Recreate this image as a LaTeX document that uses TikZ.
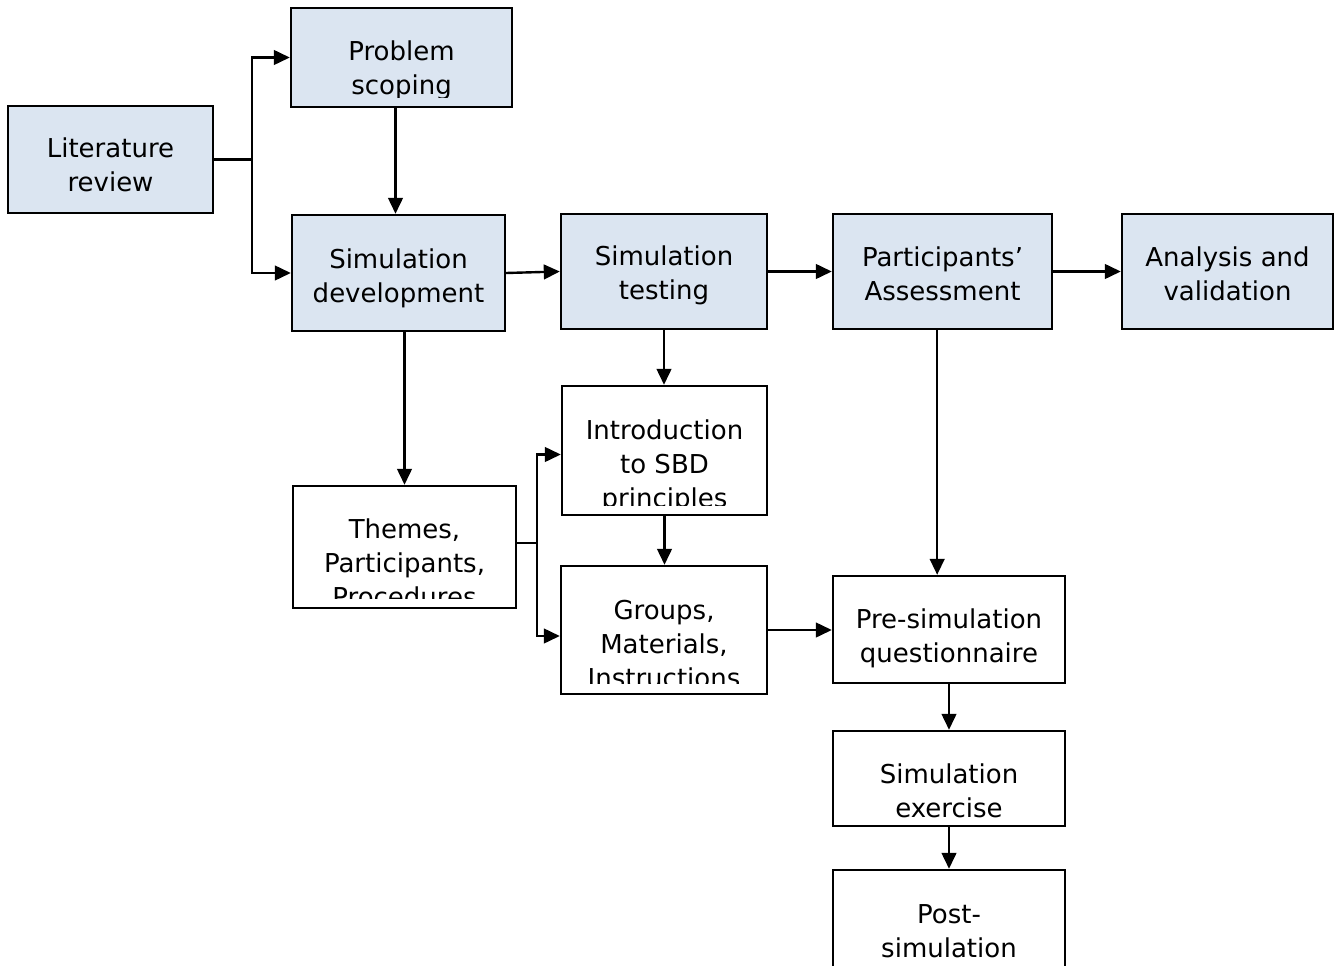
\documentclass[tikz,border=0pt]{standalone}
\usepackage{fontspec}
\setmainfont{DejaVu Sans}
\usepackage{tikz}
\definecolor{boxBlue}{RGB}{219,229,241}
\usetikzlibrary{calc,positioning,arrows.meta}

\begin{document}
\begin{tikzpicture}[
  x=0.75pt,
  y=-0.75pt,
  >={Triangle[length=12pt,width=11pt]},
  every node/.style={align=center},
  boxsize/.style 2 args={minimum width=#1*0.75pt, minimum height=#2*0.75pt},
  stepbox/.style={draw, line width=1.8pt, inner sep=0pt},
  bluebox/.style={stepbox, fill=boxBlue},
  whitebox/.style={stepbox, fill=white},
  boxtext/.style={anchor=base, inner sep=0pt, font=\fontsize{19.5pt}{25.5pt}\selectfont},
  arr/.style={->, line width=1.8pt},
  link/.style={line width=1.8pt}
]
\useasboundingbox (0,0) rectangle (1337,966);
\clip (0,0) rectangle (1337,966);

% top row
\node[bluebox, boxsize={205}{107}] (lit) at (110.5,159.5) {};
\node[bluebox, boxsize={221}{99}] (prob) at (401.5,57.5) {};
\node[bluebox, boxsize={213}{116}] (simdev) at (398.5,273) {};
\node[bluebox, boxsize={206}{115}] (simtest) at (664,271.5) {};
\node[bluebox, boxsize={219}{115}] (part) at (942.5,271.5) {};
\node[bluebox, boxsize={211}{115}] (anal) at (1227.5,271.5) {};

% lower boxes
\node[whitebox, boxsize={223}{122}] (themes) at (404.5,547) {};
\node[whitebox, boxsize={205}{129}] (intro) at (664.5,450.5) {};
\node[whitebox, boxsize={206}{128}] (groups) at (664,630) {};
\node[whitebox, boxsize={232}{107}] (presim) at (949,629.5) {};
\node[whitebox, boxsize={232}{95}] (simex) at (949,778.5) {};
\node[whitebox, boxsize={232}{140}] (post) at (949,940) {};

% texts (base = last line)
\node[boxtext] (litT) at (110.5,192) {Literature\\review};
\node[boxtext] (simdevT) at (398.5,302) {Simulation\\development};
\node[boxtext] (simtestT) at (664,299) {Simulation\\testing};
\node[boxtext] (partT) at (942.5,300) {Participants’\\Assessment};
\node[boxtext] (analT) at (1227.5,300) {Analysis and\\validation};
\node[boxtext] (presimT) at (949,662) {Pre-simulation\\questionnaire};
\node[boxtext] (postT) at (949,957) {Post-\\simulation};

% texts cut at the box bottom
\begin{scope}
  \clip (291,8) rectangle (512,98);
  \node[boxtext] (probT) at (401.5,95) {Problem\\scoping};
\end{scope}
\begin{scope}
  \clip (293,486) rectangle (516,598);
  \node[boxtext] (themesT) at (404.5,606) {Themes,\\Participants,\\Procedures};
\end{scope}
\begin{scope}
  \clip (562,386) rectangle (767,505);
  \node[boxtext] (introT) at (664.5,507) {Introduction\\to SBD\\principles};
\end{scope}
\begin{scope}
  \clip (561,566) rectangle (767,683);
  \node[boxtext] (groupsT) at (664,687) {Groups,\\Materials,\\Instructions};
\end{scope}
\begin{scope}
  \clip (833,731) rectangle (1065,817);
  \node[boxtext] (simexT) at (949,817) {Simulation\\exercise};
\end{scope}

% connectors
\coordinate (litfork) at (252,159.5);
\coordinate (thfork) at (537,543);
\draw[link] (lit.east) -- (litfork);
\draw[arr] (litfork) |- (prob.west);
\draw[arr] (litfork) |- (simdev.west);
\draw[arr] ([xshift=-4.5pt]prob.south) -- ([xshift=-4.5pt]prob.south |- simdev.north);
\draw[arr] (simdev.east) -- (simtest.west);
\draw[arr] (simtest.east) -- (part.west);
\draw[arr] (part.east) -- (anal.west);
\draw[arr] (themes.north |- simdev.south) -- (themes.north);
\draw[arr] (simtest.south) -- (intro.north -| simtest.south);
\draw[link] (themes.east |- thfork) -- (thfork);
\draw[arr] (thfork) |- ([yshift=-3pt]intro.west);
\draw[arr] (thfork) |- ([yshift=-4.5pt]groups.west);
\draw[arr] (intro.south) -- (groups.north -| intro.south);
\draw[arr] (groups.east) -- (groups.east -| presim.west);
\draw[arr] ([xshift=-4pt]part.south) -- ([xshift=-4pt]part.south |- presim.north);
\draw[arr] (presim.south) -- (simex.north);
\draw[arr] (simex.south) -- (post.north);
\end{tikzpicture}
\end{document}
